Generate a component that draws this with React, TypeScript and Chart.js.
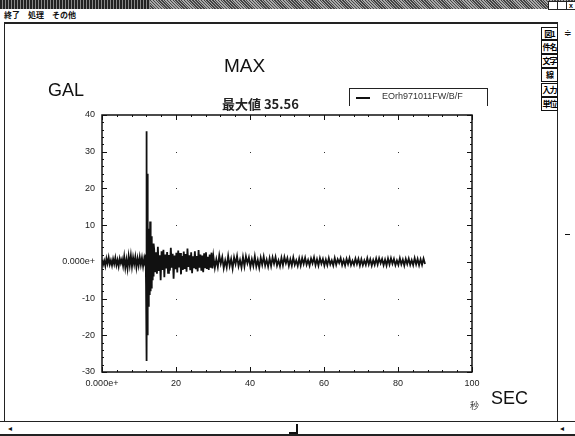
import React, { useEffect, useRef } from "react";
import { Chart, registerables } from "chart.js";
Chart.register(...registerables);

// ---- data ----
const seriesName = "EOrh971011FW/B/F";
const maxLabel = "最大値 35.56";
const xTicks = [0, 20, 40, 60, 80, 100];
const yTicks = [-30, -20, -10, 0, 10, 20, 30, 40];
const zeroLabel = "0.000e+";

// segments of the record: start time (s), sample step (s), acceleration (gal)
const preStart = 0, preStep = 0.3;
const preEvent = [
  0.6, -0.8, 0.3, -1.1, 0.9, -0.5, 1.2, -0.7, 0.4, -1.0, 0.8, -0.6, 1.1, -0.9, 0.5, -1.2, 0.9, -0.4, 0.7, -1.1,
  1.4, -1.6, 0.6, -1.8, 1.5, -0.9, 1.7, -1.3, 1.2, -0.7, 1.3, -1.5, 0.9, -1.0, 1.3, -0.8, 1.1, -1.2, 0.9,
];
const mainStart = 11.7, mainStep = 0.1;
const mainShock = [-1.0, 2, -6, 35.56, -27, 24, -20, 10, -12, 9, -10, 8, -9, 11, -8, 6, -7, 7, -6, 5, -5, 4, -4, 5];
const codaStart = 14.1, codaStep = 0.25;
const coda = [
  3.5, -2.8, 2.6, -3.2, 4.1, -2.5, 1.8, -5.0, 2.9, -2.2, 3.3, -4.2, 2.0, -1.8, 2.7, -3.0,
  1.9, -2.4, 3.8, -1.6, 2.2, -4.6, 1.7, -2.0, 2.5, -2.9, 3.1, -1.5, 2.4, -3.4, 1.6, -2.2,
  2.8, -1.9, 2.1, -2.7, 3.6, -1.4, 1.8, -2.3, 2.6, -3.1, 1.5, -1.7, 2.9, -2.0, 1.6, -2.6,
  3.2, -1.6, 2.0, -2.4, 1.7, -2.8, 2.3, -1.5, 2.6, -1.9, 1.4, -2.2, 2.0, -1.6, 2.5, -1.8,
];
const tailStart = 30.1, tailStep = 0.4;
const tail = [
  1.5, -1.6, 0.7, -1.4, 1.8, -0.5, 1.3, -1.7, 0.4, -1.5, 1.6, -1.1, 0.8, -1.8, 1.2, -0.6, 1.6, -1.2, 0.5, -1.5,
  1.3, -1.2, 1.5, -0.4, 1.2, -1.4, 0.7, -1.1, 1.5, -1.3, 0.5, -1.6, 1.1, -0.8, 1.4, -1.0, 0.6, -1.3, 1.0, -1.1,
  1.2, -0.5, 1.3, -1.0, 0.4, -1.2, 1.1, -0.9, 1.3, -0.4, 1.0, -1.1, 0.7, -1.0, 1.2, -0.8, 0.4, -1.1, 0.9, -1.0,
  1.0, -0.6, 1.1, -0.8, 0.5, -1.0, 0.9, -0.4, 1.2, -0.9, 0.7, -1.0, 1.0, -0.5, 0.8, -1.0, 0.6, -0.9, 1.0, -0.7,
  0.4, -1.0, 1.0, -0.8, 0.7, -0.3, 1.0, -0.9, 0.5, -1.0, 0.8, -0.6, 1.0, -0.9, 0.3, -0.8, 0.9, -0.6, 0.8, -1.0,
  0.7, -0.9, 0.4, -0.8, 1.0, -0.7, 0.7, -1.0, 0.5, -0.8, 0.9, -0.7, 1.0, -0.4, 0.8, -0.9, 0.6, -1.0, 0.9, -0.7,
  1.0, -0.5, 0.8, -0.9, 0.4, -0.8, 1.0, -0.7, 0.6, -1.0, 0.8, -0.6, 0.9, -0.8, 0.5, -0.9, 1.0, -0.7, 0.8, -0.9,
  0.7, -0.8, 0.9, -0.6,
];

function seg(start: number, step: number, vals: number[]) {
  return vals.map((v, i) => ({ x: +(start + i * step).toFixed(3), y: v }));
}

const framePlugin = {
  id: "frame",
  afterDraw(chart: any) {
    const { ctx, chartArea, scales } = chart;
    const { left, right, top, bottom } = chartArea;
    const x = scales.x, y = scales.y;
    ctx.save();
    ctx.strokeStyle = "#111";
    ctx.fillStyle = "#333";
    xTicks.slice(1, -1).forEach((xv) => {
      yTicks.slice(1, -1).forEach((yv) => {
        if (yv === 0) return;
        ctx.fillRect(Math.round(x.getPixelForValue(xv)), Math.round(y.getPixelForValue(yv)), 1, 1);
      });
    });
    ctx.lineWidth = 1;
    ctx.beginPath();
    for (let v = -30; v <= 40; v += 2) {
      const py = Math.round(y.getPixelForValue(v)) + 0.5;
      const len = v % 10 === 0 ? 5 : 2;
      ctx.moveTo(left, py); ctx.lineTo(left + len, py);
      ctx.moveTo(right, py); ctx.lineTo(right - len, py);
    }
    for (let v = 0; v <= 100; v += 4) {
      const px = Math.round(x.getPixelForValue(v)) + 0.5;
      const len = v % 20 === 0 ? 5 : 2;
      ctx.moveTo(px, top); ctx.lineTo(px, top + len);
      ctx.moveTo(px, bottom); ctx.lineTo(px, bottom - len);
    }
    ctx.stroke();
    ctx.lineWidth = 1.5;
    ctx.strokeRect(left, top, right - left, bottom - top);
    ctx.restore();
  },
};

const abs = (l: number, t: number, extra: any = {}): React.CSSProperties => ({
  position: "absolute", left: l, top: t, whiteSpace: "nowrap", ...extra,
});

export default function App() {
  const ref = useRef<HTMLCanvasElement>(null);
  useEffect(() => {
    if (!ref.current) return;
    const data = [
      ...seg(preStart, preStep, preEvent),
      ...seg(mainStart, mainStep, mainShock),
      ...seg(codaStart, codaStep, coda),
      ...seg(tailStart, tailStep, tail),
    ];
    const tickFont = { family: "'Liberation Sans', Arial, sans-serif", size: 9 };
    const chart = new Chart(ref.current, {
      type: "line",
      data: {
        datasets: [{
          label: seriesName, data, borderColor: "#111", borderWidth: 1.8,
          pointRadius: 0, tension: 0, fill: false,
        }],
      },
      options: {
        animation: false, responsive: false, devicePixelRatio: 1,
        layout: { padding: { left: 50, right: 103, top: 115, bottom: 42 } },
        plugins: { legend: { display: false }, tooltip: { enabled: false } },
        scales: {
          x: {
            type: "linear", min: 0, max: 100,
            afterBuildTicks: (s: any) => { s.ticks = xTicks.map((v) => ({ value: v })); },
            afterFit: (s: any) => { s.height = 22; },
            grid: { display: false, drawTicks: false }, border: { display: false },
            ticks: { color: "#222", font: tickFont, padding: 6, maxRotation: 0,
              callback: (v: any) => (v === 0 ? zeroLabel : String(v)) },
          },
          y: {
            type: "linear", min: -30, max: 40,
            afterBuildTicks: (s: any) => { s.ticks = yTicks.map((v) => ({ value: v })); },
            afterFit: (s: any) => { s.width = 52; },
            grid: { display: false, drawTicks: false }, border: { display: false },
            ticks: { color: "#222", font: tickFont, padding: 7,
              callback: (v: any) => (v === 0 ? zeroLabel : String(v)) },
          },
        },
      },
      plugins: [framePlugin],
    } as any);
    return () => chart.destroy();
  }, []);

  const sans = "'Liberation Sans', Arial, sans-serif";
  const cjk = "'Noto Sans CJK JP', sans-serif";
  const btn = (label: string, t: number, h: number) => (
    <div style={abs(541, t, { width: 15, height: h, border: "1px solid #111", background: "#fff",
      fontFamily: cjk, fontSize: 8, fontWeight: 700, lineHeight: h + "px", textAlign: "center", letterSpacing: -1 })}>{label}</div>
  );

  return (
    <div style={{ position: "fixed", left: 0, top: 0, width: 575, height: 436, background: "#fff", overflow: "hidden" }}>
      <div style={abs(0, 0, { width: 575, height: 9, background: "repeating-linear-gradient(45deg,#444 0 1px,#aaa 1px 2px)" })} />
      <div style={abs(0, 0, { width: 150, height: 9, background: "repeating-linear-gradient(90deg,#222 0 2px,#888 2px 3px)" })} />
      <div style={abs(548, 1, { width: 8, height: 7, background: "#fff", border: "1px solid #222" })} />
      <div style={abs(557, 1, { width: 8, height: 7, background: "#fff", border: "1px solid #222" })} />
      <div style={abs(566, 1, { width: 8, height: 7, background: "#fff", border: "1px solid #222", fontSize: 7, lineHeight: "7px", textAlign: "center", fontFamily: sans, fontWeight: 700 })}>x</div>
      <div style={abs(4, 10, { fontFamily: cjk, fontSize: 8, fontWeight: 700, color: "#111", lineHeight: "10px" })}>終了　処理　その他</div>
      <div style={abs(4, 22, { width: 552, height: 397, border: "1px solid #222", borderTop: "2px solid #222" })} />
      {btn("図1", 27, 11)}
      {btn("件名", 40, 12)}
      {btn("文字", 54, 12)}
      {btn("線", 68, 12)}
      {btn("入力", 83, 12)}
      {btn("単位", 97, 12)}
      <div style={abs(564, 28, { fontFamily: sans, fontSize: 9, color: "#111" })}>≑</div>
      <div style={abs(565, 234, { width: 5, height: 1, background: "#111" })} />
      <div style={abs(0, 421, { width: 575, height: 1, background: "#222" })} />
      <div style={abs(0, 434, { width: 575, height: 2, background: "#222" })} />
      <div style={abs(8, 424, { fontFamily: sans, fontSize: 8, color: "#111" })}>◂</div>
      <div style={abs(289, 424, { width: 7, height: 8, borderRight: "2px solid #111", borderBottom: "2px solid #111" })} />
      <div style={abs(560, 424, { fontFamily: sans, fontSize: 8, color: "#111" })}>◂</div>

      <canvas ref={ref} width={575} height={436} style={{ position: "absolute", left: 0, top: 0, width: 575, height: 436 }} />

      <div style={abs(224, 55, { fontFamily: sans, fontSize: 19, color: "#111" })}>MAX</div>
      <div style={abs(48, 80, { fontFamily: sans, fontSize: 18, color: "#111" })}>GAL</div>
      <div style={abs(222, 94, { fontFamily: cjk, fontSize: 13, fontWeight: 700, color: "#222" })}>{maxLabel}</div>
      <div style={abs(349, 88, { width: 137, height: 17, borderTop: "1px solid #222", borderLeft: "1px solid #222", borderRight: "1px solid #222" })} />
      <div style={abs(356, 97, { width: 14, height: 2, background: "#111" })} />
      <div style={abs(382, 91, { fontFamily: sans, fontSize: 9, color: "#333" })}>{seriesName}</div>
      <div style={abs(491, 388, { fontFamily: sans, fontSize: 18, color: "#111" })}>SEC</div>
      <div style={abs(470, 399, { fontFamily: cjk, fontSize: 9, color: "#333" })}>秒</div>
    </div>
  );
}
